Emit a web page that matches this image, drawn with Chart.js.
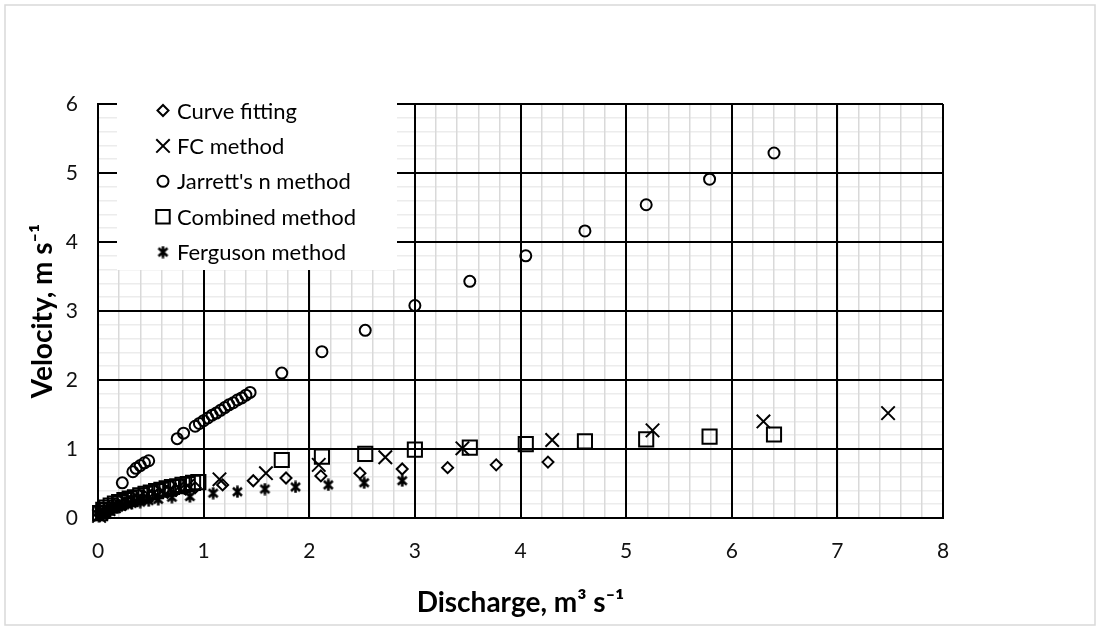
<!DOCTYPE html>
<html>
<head>
<meta charset="utf-8">
<script src="https://cdn.jsdelivr.net/npm/chart.js"></script>
<style>
  html, body { margin: 0; padding: 0; background: #fff; }
  #wrap { position: relative; width: 1100px; height: 630px; }
</style>
</head>
<body>
<div id="wrap"><canvas id="ChartQV"></canvas></div>
<script>
// discharge (m3/s) and velocity (m/s)
const curveQ = [0.02, 0.05, 0.09, 0.14, 0.19, 0.25, 0.31, 0.37, 0.44, 0.51, 0.58, 0.66, 0.74, 0.83, 0.92, 1.18, 1.47, 1.78, 2.11, 2.48, 2.88, 3.31, 3.77, 4.26];
const curveV = [0.04, 0.08, 0.12, 0.16, 0.19, 0.22, 0.25, 0.28, 0.31, 0.33, 0.36, 0.38, 0.40, 0.42, 0.44, 0.48, 0.54, 0.58, 0.61, 0.65, 0.71, 0.73, 0.77, 0.81];

const fcQ = [0.01, 0.03, 0.06, 0.10, 0.15, 0.20, 0.26, 0.32, 0.38, 0.45, 0.52, 0.60, 0.68, 0.76, 0.85, 1.15, 1.59, 2.09, 2.72, 3.45, 4.30, 5.25, 6.30, 7.48];
const fcV = [0.03, 0.06, 0.09, 0.13, 0.17, 0.20, 0.23, 0.26, 0.29, 0.32, 0.35, 0.38, 0.41, 0.44, 0.47, 0.56, 0.65, 0.77, 0.88, 1.01, 1.13, 1.27, 1.40, 1.52];

const jarrettQ = [0.03, 0.05, 0.23, 0.33, 0.36, 0.40, 0.44, 0.48, 0.75, 0.81, 0.92, 0.96, 1.00, 1.04, 1.08, 1.12, 1.16, 1.20, 1.24, 1.28, 1.32, 1.36, 1.40, 1.44, 1.74, 2.12, 2.53, 3.00, 3.52, 4.05, 4.61, 5.19, 5.79, 6.40];
const jarrettV = [0.10, 0.14, 0.51, 0.67, 0.72, 0.76, 0.80, 0.83, 1.15, 1.23, 1.33, 1.37, 1.41, 1.45, 1.49, 1.52, 1.56, 1.60, 1.64, 1.67, 1.71, 1.74, 1.78, 1.82, 2.10, 2.41, 2.72, 3.08, 3.43, 3.80, 4.16, 4.54, 4.91, 5.29];

const combQ = [0.02, 0.05, 0.08, 0.12, 0.16, 0.20, 0.25, 0.30, 0.35, 0.40, 0.45, 0.50, 0.55, 0.60, 0.65, 0.70, 0.75, 0.80, 0.85, 0.90, 0.95, 1.74, 2.12, 2.53, 3.00, 3.52, 4.05, 4.61, 5.19, 5.79, 6.40];
const combV = [0.07, 0.12, 0.15, 0.18, 0.21, 0.23, 0.26, 0.28, 0.30, 0.33, 0.35, 0.37, 0.39, 0.41, 0.43, 0.45, 0.46, 0.48, 0.49, 0.51, 0.52, 0.84, 0.89, 0.93, 0.99, 1.02, 1.07, 1.11, 1.14, 1.18, 1.21];

const fergQ = [0.01, 0.03, 0.06, 0.10, 0.14, 0.19, 0.25, 0.32, 0.40, 0.48, 0.57, 0.70, 0.87, 1.09, 1.32, 1.58, 1.87, 2.18, 2.52, 2.88];
const fergV = [0.02, 0.05, 0.08, 0.11, 0.14, 0.16, 0.19, 0.21, 0.23, 0.25, 0.27, 0.30, 0.31, 0.36, 0.38, 0.42, 0.45, 0.48, 0.51, 0.54];

const seriesNames = ["Curve fitting", "FC method", "Jarrett's n method", "Combined method", "Ferguson method"];

function pairs(xs, ys) {
  return xs.map((x, i) => ({ x: x, y: ys[i] }));
}

// Excel-like "star" marker: an X with a vertical bar
function makeStar(size) {
  const c = document.createElement("canvas");
  c.width = size;
  c.height = size;
  const g = c.getContext("2d");
  g.strokeStyle = "#000";
  g.lineWidth = 2.6;
  g.beginPath();
  g.moveTo(2, 2.5); g.lineTo(size - 2, size - 2.5);
  g.moveTo(size - 2, 2.5); g.lineTo(2, size - 2.5);
  g.moveTo(size / 2, 0.5); g.lineTo(size / 2, size - 0.5);
  g.stroke();
  return c;
}
const starMark = makeStar(13);

function ds(label, xs, ys, style, radius) {
  return {
    label: label,
    data: pairs(xs, ys),
    pointStyle: style,
    pointRadius: radius,
    pointHoverRadius: radius,
    pointBorderColor: "#000",
    pointBackgroundColor: "rgba(0,0,0,0)",
    pointBorderWidth: 2,
    borderColor: "#000",
    backgroundColor: "rgba(0,0,0,0)",
    showLine: false,
    clip: false,
  };
}

// legend drawn inside the plot, on a white box
const insideLegend = {
  id: "insideLegend",
  afterDatasetsDraw(chart) {
    const ctx = chart.ctx;
    ctx.save();
    ctx.fillStyle = "#fff";
    ctx.fillRect(117, 92, 280, 178);
    ctx.font = "22px Lato";
    ctx.textBaseline = "middle";
    chart.data.datasets.forEach((d, i) => {
      const y = 110.5 + i * 35.4;
      ctx.strokeStyle = "#000";
      ctx.fillStyle = "rgba(0,0,0,0)";
      ctx.lineWidth = 2;
      Chart.helpers.drawPoint(ctx, {
        pointStyle: d.pointStyle,
        radius: d.pointStyle === "circle" || d.pointStyle === "rectRot" ? 5.5 : 9.5,
        borderWidth: 2,
        rotation: 0,
      }, 163, y);
      ctx.fillStyle = "#000";
      ctx.fillText(d.label, 177, y + 1);
    });
    ctx.restore();
  },
};

const frame = {
  id: "frame",
  beforeDraw(chart) {
    const ctx = chart.ctx;
    ctx.save();
    ctx.fillStyle = "#fff";
    ctx.fillRect(0, 0, chart.width, chart.height);
    ctx.strokeStyle = "#d9d9d9";
    ctx.lineWidth = 1.5;
    ctx.strokeRect(5, 5, chart.width - 10, chart.height - 10);
    ctx.restore();
  },
};

// scales that only carry the light 0.2 grid, drawn under the black one
function minorScale(axis, max, color) {
  return {
    type: "linear",
    axis: axis,
    position: axis === "x" ? "bottom" : "left",
    min: 0,
    max: max,
    afterFit(scale) {
      if (axis === "x") scale.height = 0; else scale.width = 0;
    },
    border: { display: false },
    grid: { drawTicks: false, color: color, lineWidth: 1.5, z: -1 },
    ticks: { display: false, stepSize: 0.2, maxTicksLimit: 100, autoSkip: false },
  };
}

Chart.defaults.font.family = "Lato";
Chart.defaults.color = "#111";

new Chart(document.getElementById("ChartQV"), {
  type: "scatter",
  data: {
    datasets: [
      ds(seriesNames[0], curveQ, curveV, "rectRot", 5.5),
      ds(seriesNames[1], fcQ, fcV, "crossRot", 9.5),
      ds(seriesNames[2], jarrettQ, jarrettV, "circle", 5.5),
      ds(seriesNames[3], combQ, combV, "rect", 10),
      ds(seriesNames[4], fergQ, fergV, starMark, 6),
    ],
  },
  options: {
    responsive: true,
    maintainAspectRatio: false,
    animation: false,
    layout: { padding: { left: 0, top: 104, right: 157, bottom: 0 } },
    plugins: {
      legend: { display: false },
      tooltip: { enabled: false },
    },
    scales: {
      yMinor: minorScale("y", 6, "#ececec"),
      xMinor: minorScale("x", 8, "#d9d9d9"),
      x: {
        type: "linear",
        min: 0,
        max: 8,
        afterFit(scale) { scale.height = 112; },
        border: { color: "#000", width: 2 },
        grid: { drawTicks: false, color: "#000", lineWidth: 2 },
        ticks: {
          stepSize: 1,
          maxRotation: 0,
          padding: 21,
          font: { size: 21 },
        },
        title: {
          display: true,
          text: "Discharge, m³ s⁻¹",
          color: "#000",
          font: { size: 28, weight: "bold" },
          padding: { top: 0, bottom: 10 },
        },
      },
      y: {
        type: "linear",
        min: 0,
        max: 6,
        afterFit(scale) { scale.width = 98; },
        border: { color: "#000", width: 2 },
        grid: { drawTicks: false, color: "#000", lineWidth: 2 },
        ticks: {
          stepSize: 1,
          padding: 20,
          font: { size: 21 },
        },
        title: {
          display: true,
          text: "Velocity, m s⁻¹",
          color: "#000",
          font: { size: 28, weight: "bold" },
          padding: { top: 26, bottom: 0 },
        },
      },
    },
  },
  plugins: [frame, insideLegend],
});
</script>
</body>
</html>
